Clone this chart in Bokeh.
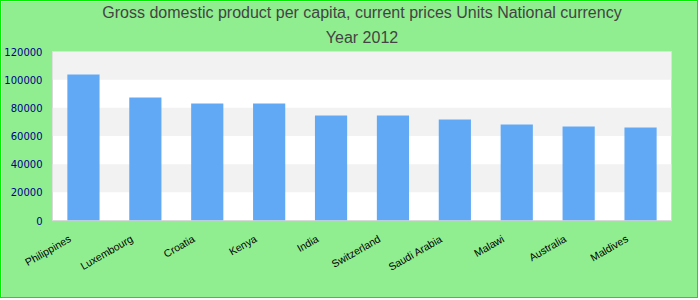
import math
from bokeh.plotting import figure
from bokeh.models import FixedTicker, Title, Range1d, NumeralTickFormatter, LinearAxis
from bokeh.embed import file_html
from bokeh.resources import INLINE

countries = ["Philippines", "Luxembourg", "Croatia", "Kenya", "India",
             "Switzerland", "Saudi Arabia", "Malawi", "Australia", "Maldives"]
gdp = [103700, 87300, 83100, 83100, 74600, 74500, 71700, 68200, 66700, 66000]
y_ticks = [0, 20000, 40000, 60000, 80000, 100000, 120000]

n = len(countries)
idx = list(range(n))

p = figure(x_range=Range1d(-0.5, n - 0.5), y_range=Range1d(0, 120000), width=698, height=298,
           output_backend="svg", toolbar_location=None,
           min_border_left=49, min_border_right=28, min_border_top=20, min_border_bottom=79)
p.styles = {"border": "1px solid #00ee00"}

p.vbar(x=idx, top=gdp, width=0.52, color="#62a9f5", line_color=None)

p.background_fill_color = "white"
p.border_fill_color = "#90ee90"
p.outline_line_color = "#d9d9d9"
p.outline_line_width = 1

p.xgrid.grid_line_color = None
p.ygrid.grid_line_color = None
p.ygrid.ticker = FixedTicker(ticks=y_ticks)
p.ygrid.band_fill_color = "#f2f2f2"
p.ygrid.band_fill_alpha = 1.0

p.yaxis.ticker = FixedTicker(ticks=y_ticks)
p.yaxis.formatter = NumeralTickFormatter(format="0")
p.yaxis.axis_line_color = None
p.yaxis.major_tick_line_color = None
p.yaxis.minor_tick_line_color = None
p.yaxis.major_tick_out = 0
p.yaxis.major_tick_in = 0
p.yaxis.minor_tick_out = 0
p.yaxis.major_label_text_color = "#00008b"
p.yaxis.major_label_text_font = "DejaVu Sans"
p.yaxis.major_label_text_font_size = "10px"
p.yaxis.major_label_standoff = 10

# category labels on an index axis, nudged left like the original's label anchoring
p.xaxis.visible = False
label_shift = 0.22
p.extra_x_ranges = {"labels": Range1d(-0.5 + label_shift, n - 0.5 + label_shift)}
lab_axis = LinearAxis(x_range_name="labels",
                      ticker=FixedTicker(ticks=idx),
                      major_label_overrides={i: c for i, c in enumerate(countries)})
lab_axis.axis_line_color = None
lab_axis.major_tick_line_color = None
lab_axis.minor_tick_line_color = None
lab_axis.major_tick_out = 0
lab_axis.major_tick_in = 0
lab_axis.minor_tick_out = 0
lab_axis.major_label_orientation = math.pi / 6
lab_axis.major_label_text_font = "Liberation Sans"
lab_axis.major_label_text_font_size = "10.5px"
lab_axis.major_label_text_color = "black"
lab_axis.major_label_standoff = 17
p.add_layout(lab_axis, "below")

sub = Title(text="Year 2012", align="center", text_font="Liberation Sans",
            text_font_size="16px", text_color="#444444", text_font_style="normal",
            standoff=11, offset=0)
p.add_layout(sub, "above")
main = Title(text="Gross domestic product per capita, current prices Units National currency",
             align="center", text_font="Liberation Sans", text_font_size="16px",
             text_color="#444444", text_font_style="normal", standoff=1)
p.add_layout(main, "above")
p.title.visible = False

open("out.html", "w").write(file_html(p, INLINE))
